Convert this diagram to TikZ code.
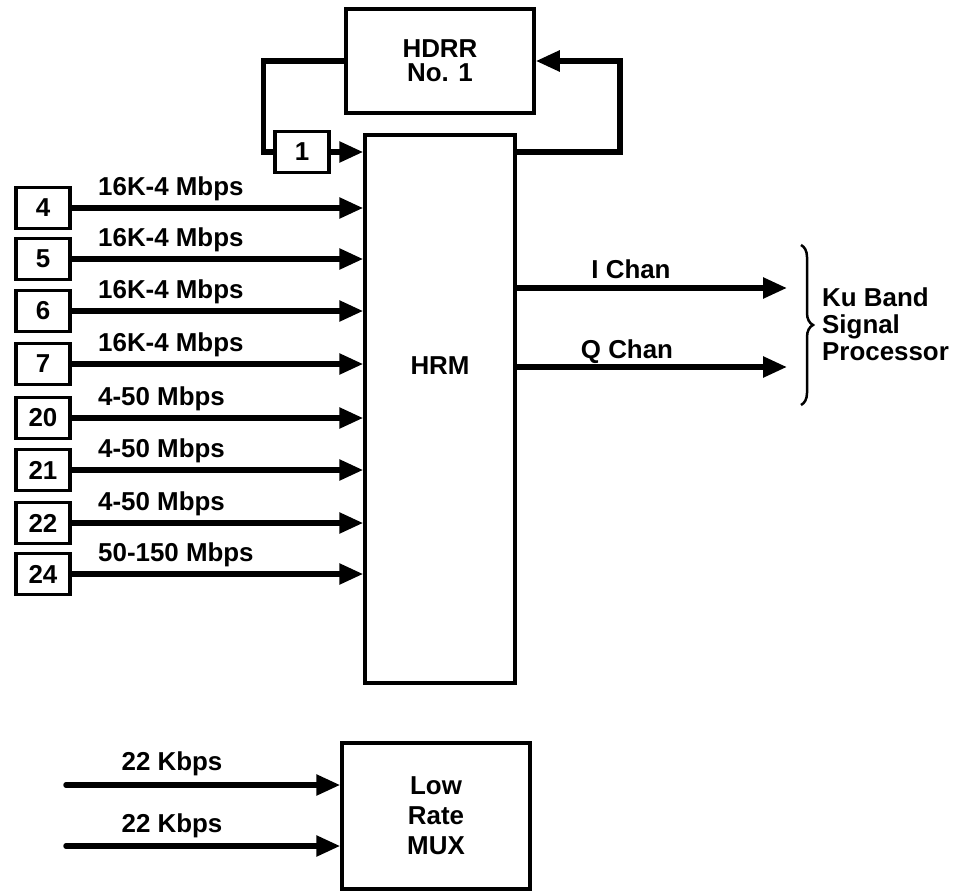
\documentclass[tikz,border=0pt]{standalone}
\usepackage{fontspec}
\setmainfont{Liberation Sans}
\usetikzlibrary{arrows.meta,decorations.pathreplacing}

\begin{document}
\begin{tikzpicture}[x=1bp,y=-1bp,
    txt/.style={font=\fontsize{26}{27}\selectfont\bfseries, inner sep=0pt},
    blk/.style={draw, line width=3.5bp, txt},
    numbox/.style={blk, minimum width=54bp, minimum height=41bp},
    sig/.style={line width=5.5bp, -{Triangle[length=24bp,width=20bp]}},
    wire/.style={line width=5.5bp}]

  \useasboundingbox (0,0) rectangle (961,892);

  % recorder and high rate multiplexer
  \node[blk, minimum width=188bp, minimum height=104bp, align=center,
        font=\fontsize{26}{24}\selectfont\bfseries] (hdrr) at (440,61) {HDRR\\No. 1};
  \node[blk, minimum width=150bp, minimum height=548bp] (hrm) at (440,409) {};
  \node[txt] (hrmlbl) at (440,366) {HRM};

  % playback loop through input 1
  \node[numbox] (n1) at (302,152) {1};
  \draw[wire] (hdrr.west) -- ++(-81,0) |- (n1.west);
  \draw[sig] (n1.east) -- (n1.east -| hrm.west);
  \draw[sig] (hrm.east |- n1.east) -- ++(103,0) |- (hdrr.east);

  % input channels
  \foreach \n/\y/\r in {4/208/16K-4 Mbps, 5/259/16K-4 Mbps, 6/311/16K-4 Mbps, 7/364/16K-4 Mbps,
                        20/418/4-50 Mbps, 21/470/4-50 Mbps, 22/523/4-50 Mbps, 24/574/50-150 Mbps}{
    \node[numbox] (n\n) at (43,\y) {\n};
    \draw[sig] (n\n.east) -- (n\n.east -| hrm.west);
    \node[txt, anchor=base west] (r\n) at (98,\y-13) {\r};
  }

  % outputs
  \coordinate (iend) at (787,288);
  \coordinate (qend) at (787,367);
  \draw[sig] (hrm.east |- iend) -- (iend);
  \draw[sig] (hrm.east |- qend) -- (qend);
  \node[txt, anchor=base] (ilbl) at (631,278) {I Chan};
  \node[txt, anchor=base] (qlbl) at (627,358) {Q Chan};

  % signal processor
  \draw[line width=2.5bp, decorate, decoration={brace, amplitude=12bp}] (801,245) -- (801,405);
  \node[txt, align=left, anchor=west] (kusp) at (822,324) {Ku Band\\Signal\\Processor};

  % low rate channels
  \node[blk, minimum width=188bp, minimum height=146bp, align=center,
        font=\fontsize{26}{30}\selectfont\bfseries] (mux) at (436,816) {Low\\Rate\\MUX};
  \coordinate (lr1) at (66,785);
  \coordinate (lr2) at (66,846);
  \draw[sig, line cap=round] (lr1) -- (lr1 -| mux.west);
  \draw[sig, line cap=round] (lr2) -- (lr2 -| mux.west);
  \node[txt, anchor=base] (lrlbl1) at (172,770) {22 Kbps};
  \node[txt, anchor=base] (lrlbl2) at (172,832) {22 Kbps};

\end{tikzpicture}
\end{document}
